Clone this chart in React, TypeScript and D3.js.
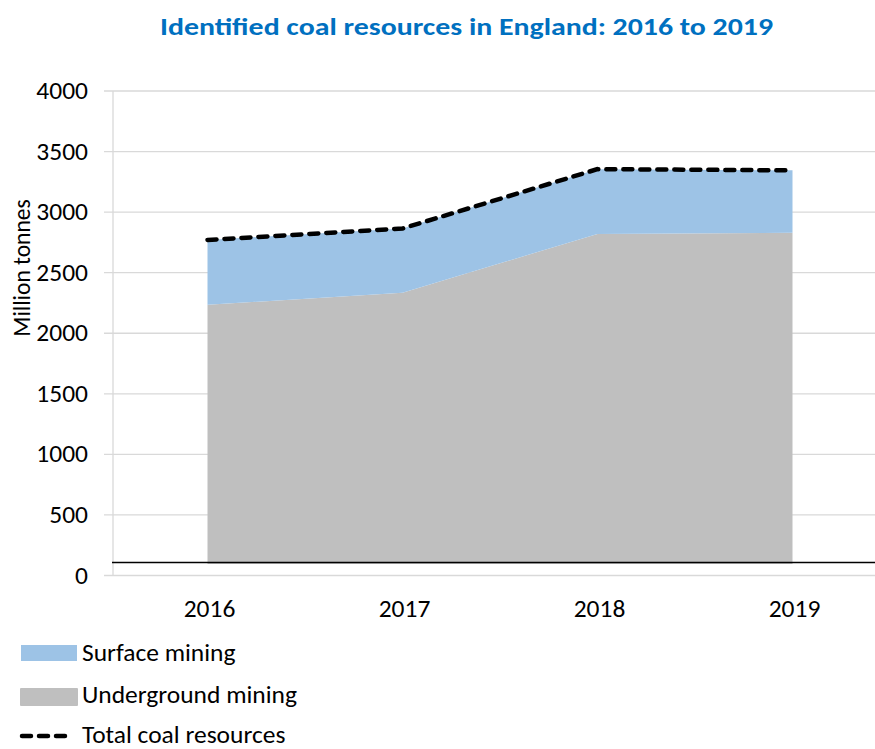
import React from "react";
import * as d3 from "d3";

const years = ["2016", "2017", "2018", "2019"];
const underground = [2235, 2335, 2820, 2830];
const surface = [535, 530, 535, 515];
const total = [2770, 2865, 3355, 3345];
const yTicks = [0, 500, 1000, 1500, 2000, 2500, 3000, 3500, 4000];
const axisCross = 95;

const W = 875;
const H = 749;
const FONT = "Carlito, Calibri, 'Open Sans', sans-serif";
const FS = 23.5;
const SX = 1.085;

function T({ x, y, anchor = "start", children, size = FS }: any) {
  return (
    <text
      transform={`translate(${x},${y}) scale(${SX},1)`}
      textAnchor={anchor}
      fontFamily={FONT}
      fontSize={size}
      fill="#000"
    >
      {children}
    </text>
  );
}

export default function App() {
  const y = d3.scaleLinear().domain([0, 4000]).range([575.5, 91]);
  const x = d3.scaleBand<string>().domain(years).range([110, 890]);
  const cx = (i: number) => (x(years[i]) as number) + x.bandwidth() / 2;

  const stacked = years.map((yr, i) => ({
    i,
    u: underground[i],
    t: underground[i] + surface[i],
  }));

  const areaU = d3
    .area<any>()
    .x((d) => cx(d.i))
    .y0(() => y(axisCross))
    .y1((d) => y(d.u));
  const areaS = d3
    .area<any>()
    .x((d) => cx(d.i))
    .y0((d) => y(d.u))
    .y1((d) => y(d.t));
  const line = d3
    .line<number>()
    .x((_, i) => cx(i))
    .y((d) => y(d));

  return (
    <svg width={W} height={H} style={{ position: "absolute", left: 0, top: 0, background: "#fff" }}>
      <text
        x={466.5}
        y={34.5}
        textAnchor="middle"
        fontFamily={FONT}
        fontWeight="bold"
        fontSize={25}
        fill="#0070C0"
        textLength={613}
        lengthAdjust="spacingAndGlyphs"
      >
        Identified coal resources in England: 2016 to 2019
      </text>

      {yTicks.map((t) => (
        <g key={t}>
          <line x1={104} x2={W} y1={y(t)} y2={y(t)} stroke="#D9D9D9" strokeWidth={1.3} />
          <T x={88} y={y(t) + 8} anchor="end">
            {t}
          </T>
        </g>
      ))}
      <line x1={113} x2={113} y1={y(4000)} y2={y(0)} stroke="#D9D9D9" strokeWidth={1.3} />

      <path d={areaU(stacked) as string} fill="#BFBFBF" />
      <path d={areaS(stacked) as string} fill="#9DC3E6" />
      <line x1={112} x2={W} y1={y(axisCross) - 1.5} y2={y(axisCross) - 1.5} stroke="#000" strokeWidth={1.5} />
      <path
        d={line(total) as string}
        fill="none"
        stroke="#000"
        strokeWidth={4.5}
        strokeDasharray="9,8"
        strokeLinecap="round"
      />

      {years.map((yr, i) => (
        <T key={yr} x={cx(i) + 2} y={617} anchor="middle">
          {yr}
        </T>
      ))}

      <text
        transform={`translate(30,268) rotate(-90)`}
        textAnchor="middle"
        fontFamily={FONT}
        fontSize={FS}
        fill="#000"
      >
        Million tonnes
      </text>

      <rect x={21} y={645} width={56} height={16} fill="#9DC3E6" />
      <T x={82} y={660.5}>Surface mining</T>
      <rect x={20} y={688} width={58} height={18} fill="#BFBFBF" rx={1} />
      <T x={82} y={703}>Underground mining</T>
      <line
        x1={22}
        x2={72}
        y1={736}
        y2={736}
        stroke="#000"
        strokeWidth={4.5}
        strokeDasharray="9,8"
        strokeLinecap="round"
      />
      <T x={82} y={743}>Total coal resources</T>
    </svg>
  );
}
